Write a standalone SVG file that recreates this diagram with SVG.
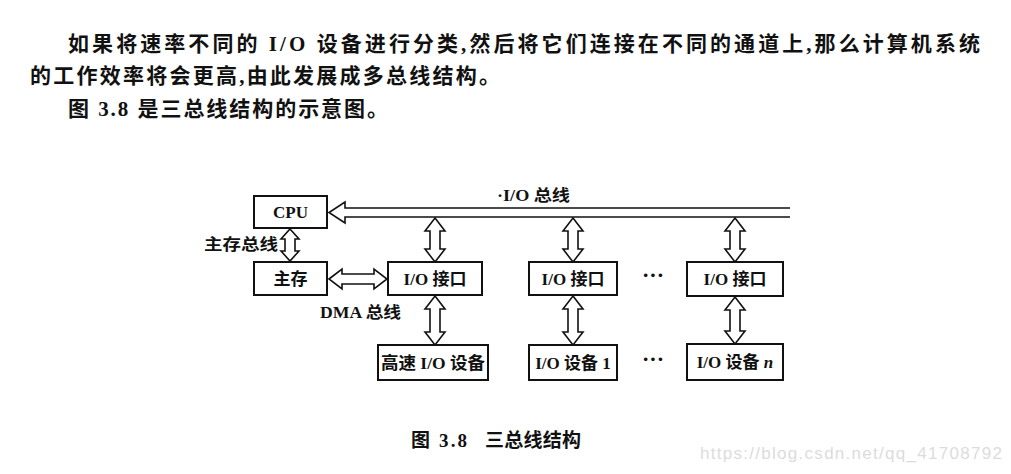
<svg xmlns="http://www.w3.org/2000/svg" width="1011" height="474" viewBox="0 0 1011 474">
<style>
.para{font-family:"Liberation Serif","Noto Sans CJK SC",serif;font-size:21px;font-weight:bold;fill:#111}
.box{fill:#fff;stroke:#111;stroke-width:2}
.lbl{font-family:"Liberation Serif","Noto Sans CJK SC",serif;font-size:17px;font-weight:bold;fill:#111;text-anchor:middle;dominant-baseline:central}
.tag{font-family:"Liberation Serif","Noto Sans CJK SC",serif;font-size:16px;font-weight:bold;fill:#111}
.dots{font-family:"Liberation Serif",serif;font-size:22px;font-weight:bold;fill:#111;text-anchor:middle}
.arr{fill:#fff;stroke:#111;stroke-width:1.6;stroke-linejoin:miter}
.cap{font-family:"Liberation Serif","Noto Sans CJK SC",serif;font-size:19px;font-weight:bold;fill:#111}
.wm{font-family:"Liberation Sans",sans-serif;font-size:17px;fill:#dcdcdc}
</style>
<rect width="1011" height="474" fill="#fff"/>
<text class="para" x="68" y="51" textLength="912" lengthAdjust="spacing">如果将速率不同的 I/O 设备进行分类,然后将它们连接在不同的通道上,那么计算机系统</text>
<text class="para" x="30" y="83" textLength="470" lengthAdjust="spacing">的工作效率将会更高,由此发展成多总线结构。</text>
<text class="para" x="68" y="116" textLength="320" lengthAdjust="spacing">图 3.8 是三总线结构的示意图。</text>

<g id="connectors">
  <path id="io-bus" class="arr" d="M790,208 L345,208 L345,202 L329,212.5 L345,223 L345,217 L790,217"/>
  <polygon id="mem-bus" class="arr" points="290,229 299,239 295,239 295,251 299,251 290,261 281,251 285,251 285,239 281,239"/>
  <polygon id="dma-bus" class="arr" points="329,279 342,269 342,274 374,274 374,269 387,279 374,289 374,284 342,284 342,289"/>
  <polygon class="arr" points="435,218 445,231 440,231 440,249 445,249 435,262 425,249 430,249 430,231 425,231"/>
  <polygon class="arr" points="573,218 583,231 578,231 578,249 583,249 573,262 563,249 568,249 568,231 563,231"/>
  <polygon class="arr" points="735,218 745,231 740,231 740,249 745,249 735,262 725,249 730,249 730,231 725,231"/>
  <polygon class="arr" points="435,296 445,309 440,309 440,332 445,332 435,345 425,332 430,332 430,309 425,309"/>
  <polygon class="arr" points="573,296 583,309 578,309 578,332 583,332 573,345 563,332 568,332 568,309 563,309"/>
  <polygon class="arr" points="735,297 745,310 740,310 740,331 745,331 735,344 725,331 730,331 730,310 725,310"/>
</g>

<text class="tag" x="497" y="201" textLength="73" lengthAdjust="spacingAndGlyphs">·I/O 总线</text>
<text class="tag" x="204" y="250" textLength="74" lengthAdjust="spacingAndGlyphs">主存总线</text>
<text class="tag" x="320" y="318" textLength="81" lengthAdjust="spacingAndGlyphs">DMA 总线</text>

<g id="cpu"><rect class="box" x="254" y="196" width="73" height="32"/><text class="lbl" x="290.5" y="212">CPU</text></g>
<g id="memory"><rect class="box" x="254" y="262" width="73" height="33"/><text class="lbl" x="290.5" y="279">主存</text></g>
<g id="io-if-1"><rect class="box" x="388" y="262" width="94" height="33"/><text class="lbl" x="435" y="279">I/O 接口</text></g>
<g id="io-if-2"><rect class="box" x="529" y="262" width="88" height="33"/><text class="lbl" x="573" y="279">I/O 接口</text></g>
<g id="io-if-n"><rect class="box" x="687" y="262" width="96" height="34"/><text class="lbl" x="735" y="279">I/O 接口</text></g>
<g id="hs-dev"><rect class="box" x="378" y="345" width="110" height="35"/><text class="lbl" x="433" y="363" textLength="104" lengthAdjust="spacingAndGlyphs">高速 I/O 设备</text></g>
<g id="dev-1"><rect class="box" x="529" y="345" width="88" height="35"/><text class="lbl" x="573" y="363">I/O 设备 1</text></g>
<g id="dev-n"><rect class="box" x="687" y="344" width="96" height="36"/><text class="lbl" x="735" y="362">I/O 设备 <tspan font-style="italic">n</tspan></text></g>

<text class="dots" x="653" y="282">···</text>
<text class="dots" x="653" y="366">···</text>

<text class="cap" x="411" y="447" textLength="56" lengthAdjust="spacing">图 3.8</text>
<text class="cap" x="485" y="447" textLength="96" lengthAdjust="spacing">三总线结构</text>
<text class="wm" x="700" y="459" textLength="302" lengthAdjust="spacing">https://blog.csdn.net/qq_41708792</text>
</svg>
